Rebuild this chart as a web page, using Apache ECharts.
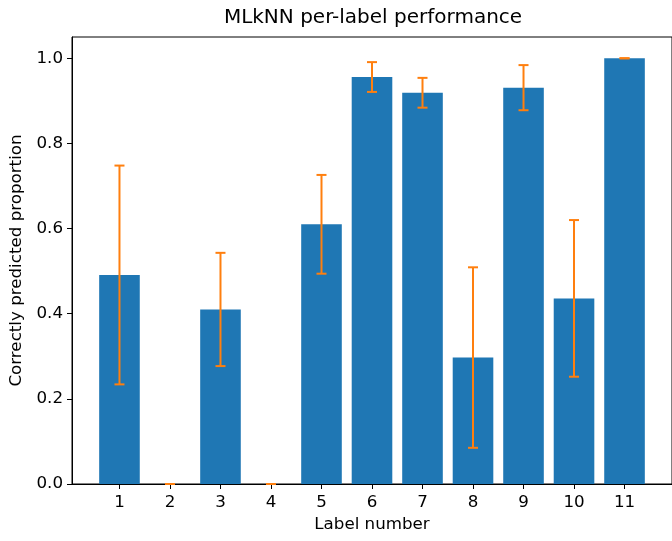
<!DOCTYPE html>
<html>
<head>
<meta charset="utf-8">
<script src="https://cdn.jsdelivr.net/npm/echarts@6/dist/echarts.min.js"></script>
<style>html,body{margin:0;padding:0;background:#fff}#c{width:672px;height:541px}</style>
</head>
<body>
<div id="c"></div>
<script>
var labels = [1, 2, 3, 4, 5, 6, 7, 8, 9, 10, 11];
var means  = [0.491, 0.0, 0.410, 0.0, 0.610, 0.956, 0.919, 0.297, 0.931, 0.436, 1.0];
var errs   = [0.257, 0.0, 0.133, 0.0, 0.116, 0.035, 0.035, 0.212, 0.053, 0.184, 0.0];
var yTicks = [0, 0.2, 0.4, 0.6, 0.8, 1.0];
var titleText = 'MLkNN per-label performance';

var chart = echarts.init(document.getElementById('c'), null, {renderer: 'canvas'});
var font = 'DejaVu Sans';
var barData = labels.map(function (l, i) { return [l, means[i]]; });
var errData = labels.map(function (l, i) { return [l, means[i], errs[i]]; });

chart.setOption({
  animation: false,
  backgroundColor: '#ffffff',
  graphic: [{
    type: 'text', x: 373, y: 8,
    style: {text: titleText, fontFamily: font, fontSize: 20, fill: '#000', align: 'center', verticalAlign: 'top'}
  }],
  grid: {left: 72, right: -2, top: 37, bottom: 57, show: true, borderColor: '#000', borderWidth: 1, backgroundColor: 'transparent'},
  xAxis: {
    type: 'value', min: 0.06, max: 11.94,
    name: 'Label number', nameLocation: 'middle', nameGap: 32,
    nameTextStyle: {fontFamily: font, fontSize: 16.7, color: '#000'},
    axisLine: {show: true, onZero: false, lineStyle: {color: '#000', width: 1}},
    axisTick: {show: true, length: 5, lineStyle: {color: '#000'}, customValues: labels},
    axisLabel: {fontFamily: font, fontSize: 16.7, color: '#000', margin: 10, customValues: labels},
    splitLine: {show: false}
  },
  yAxis: {
    type: 'value', min: 0, max: 1.05,
    name: 'Correctly predicted proportion', nameLocation: 'middle', nameGap: 46,
    nameTextStyle: {fontFamily: font, fontSize: 16.7, color: '#000'},
    axisLine: {show: true, lineStyle: {color: '#000', width: 1}},
    axisTick: {show: true, length: 5, lineStyle: {color: '#000'}, customValues: yTicks},
    axisLabel: {fontFamily: font, fontSize: 16.7, color: '#000', margin: 9, customValues: yTicks,
      formatter: function (v) { return Number(v).toFixed(1); }},
    splitLine: {show: false}
  },
  series: [
    {
      type: 'bar', data: barData, barWidth: 40.6,
      itemStyle: {color: '#1f77b4'}, z: 2
    },
    {
      type: 'custom', data: errData, z: 5,
      renderItem: function (params, api) {
        var x = api.value(0), m = api.value(1), e = api.value(2);
        var lo = api.coord([x, m - e]), hi = api.coord([x, m + e]);
        var hw = 5;
        var st = {stroke: '#ff7f0e', lineWidth: 2};
        return {type: 'group', children: [
          {type: 'line', shape: {x1: lo[0], y1: lo[1], x2: hi[0], y2: hi[1]}, style: st},
          {type: 'line', shape: {x1: lo[0] - hw, y1: lo[1], x2: lo[0] + hw, y2: lo[1]}, style: st},
          {type: 'line', shape: {x1: hi[0] - hw, y1: hi[1], x2: hi[0] + hw, y2: hi[1]}, style: st}
        ]};
      }
    }
  ]
});
</script>
</body>
</html>
